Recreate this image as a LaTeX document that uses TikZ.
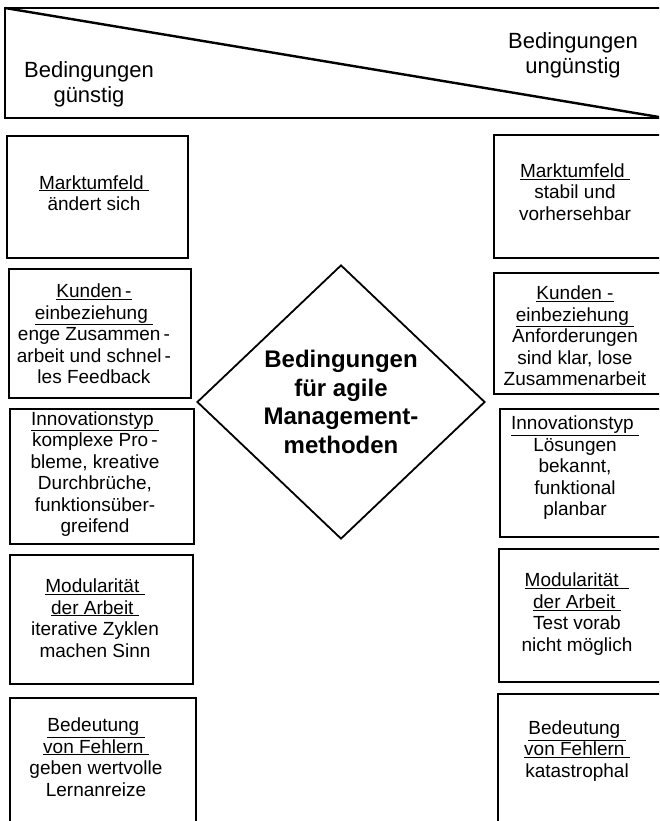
\documentclass[tikz,border=0pt]{standalone}
\usepackage{fontspec}
\setmainfont{Liberation Sans}
\usetikzlibrary{shapes.geometric}
\begin{document}
\begin{tikzpicture}[x=1pt,y=-1pt,
  box/.style={draw,line width=2.4pt,inner sep=0pt,anchor=north west},
  txt/.style={align=center,inner sep=0pt,font=\fontsize{19}{21.5}\selectfont},
  head/.style={align=center,inner sep=0pt,font=\fontsize{22}{25}\selectfont},
  center/.style={diamond,draw,line width=1.8pt,inner sep=0pt,minimum width=288pt,minimum height=274pt,align=center,font=\bfseries\fontsize{24}{28.5}\selectfont}
]
\useasboundingbox (0,0) rectangle (659,821);
\clip (0,0) rectangle (659,821);
% banner
\coordinate (bnw) at (5,8);
\coordinate (bse) at (668,118);
\coordinate (dend) at (659,117);
\draw[line width=2.2pt] (bnw) rectangle (bse);
\draw[line width=2.4pt] (bnw) -- (dend);
\node[head] (hgood) at (89,84) {Bedingungen\\günstig};
\node[head] (hbad) at (573,55) {Bedingungen\\ungünstig};
% left boxes
\node[box,minimum width=181pt,minimum height=122pt] (l1) at (6,135) {};
\node[box,minimum width=182pt,minimum height=129pt] (l2) at (8,268) {};
\node[box,minimum width=184pt,minimum height=135pt] (l3) at (9,408) {};
\node[box,minimum width=183pt,minimum height=129pt] (l4) at (9,554) {};
\node[box,minimum width=186pt,minimum height=140pt] (l5) at (9,697) {};
% right boxes
\node[box,minimum width=175pt,minimum height=123pt] (r1) at (493,134) {};
\node[box,minimum width=175pt,minimum height=121pt] (r2) at (493,272) {};
\node[box,minimum width=170pt,minimum height=128pt] (r3) at (499,408) {};
\node[box,minimum width=170pt,minimum height=133pt] (r4) at (498,548) {};
\node[box,minimum width=170pt,minimum height=140pt] (r5) at (497,693) {};
% left texts
\node[txt] (tl1) at (94,193) {\underline{Marktumfeld\ }\\ändert sich};
\node[txt] (tl2) at (94,334) {\underline{Kunden\,-}\\\underline{einbeziehung\ }\\enge Zusammen\,-\\arbeit und schnel\,-\\les Feedback};
\node[txt] (tl3) at (95,474) {\underline{Innovationstyp\ }\\komplexe Pro\,-\\bleme, kreative\\Durchbrüche,\\funktionsüber-\\greifend};
\node[txt] (tl4) at (95,618) {\underline{Modularität\ }\\\underline{der Arbeit\ }\\iterative Zyklen\\machen Sinn};
\node[txt] (tl5) at (96,757) {\underline{Bedeutung\ }\\\underline{von Fehlern\ }\\geben wertvolle\\Lernanreize};
% right texts
\node[txt] (tr1) at (575,192) {\underline{Marktumfeld\ }\\stabil und\\vorhersehbar};
\node[txt] (tr2) at (575,336) {\underline{Kunden -}\\\underline{einbeziehung\ }\\Anforderungen\\sind klar, lose\\Zusammenarbeit};
\node[txt] (tr3) at (575,468) {\underline{Innovationstyp\ }\\Lösungen\\bekannt,\\funktional\\planbar};
\node[txt] (tr4) at (577,614) {\underline{Modularität\ \ }\\\underline{der Arbeit\ }\\Test vorab\\nicht möglich};
\node[txt] (tr5) at (577,751) {\underline{Bedeutung\ }\\\underline{von Fehlern\ }\\katastrophal};
% centre diamond
\node[center] (c) at (341,402) {Bedingungen\\für agile\\Management-\\methoden};
\end{tikzpicture}
\end{document}
